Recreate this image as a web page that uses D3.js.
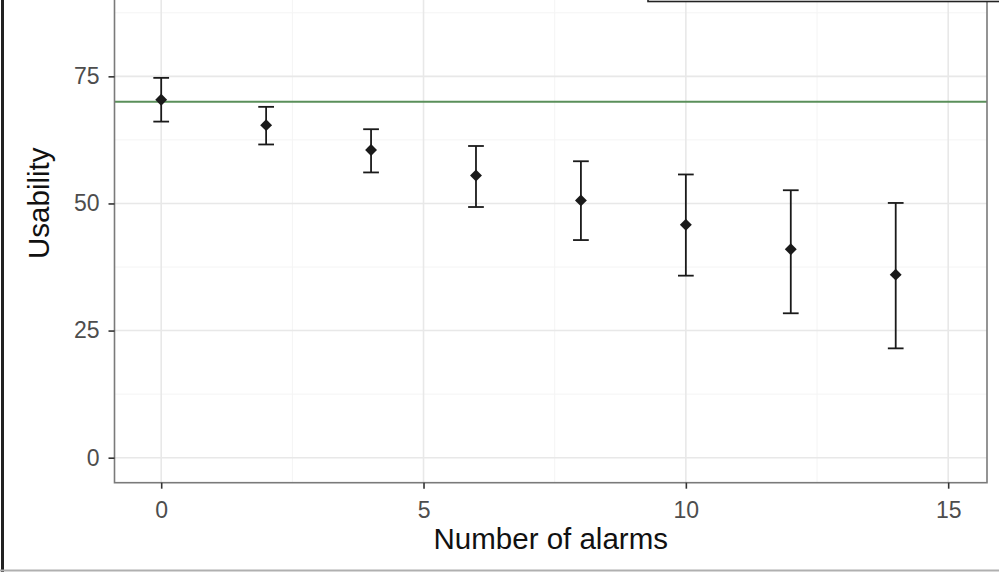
<!DOCTYPE html>
<html><head><meta charset="utf-8">
<script src="https://cdn.jsdelivr.net/npm/d3@7"></script>
<style>body{margin:0;background:#fff;}svg{display:block;font-family:"Liberation Sans",Arial,sans-serif;}</style>
</head><body>
<script>
const alarms = [0, 2, 4, 6, 8, 10, 12, 14];
const usability = [70.4, 65.4, 60.5, 55.5, 50.6, 45.8, 41.0, 36.0];
const lower = [66.1, 61.6, 56.1, 49.3, 42.8, 35.8, 28.4, 21.5];
const upper = [74.7, 69.0, 64.6, 61.3, 58.3, 55.7, 52.6, 50.1];
const reference = 70;
const xTicks = [0, 5, 10, 15];
const yTicks = [0, 25, 50, 75];
const xMinor = [2.5, 7.5, 12.5];
const yMinor = [12.5, 37.5, 62.5, 87.5];

const W = 999, H = 572;
const svg = d3.select("body").append("svg").attr("width", W).attr("height", H);

const x = d3.scaleLinear().domain([-0.89, 15.74]).range([114.5, 987]);
const y = d3.scaleLinear().domain([-4.92, 105]).range([482.7, -76.2]);

// outer frame pieces
svg.append("line").attr("x1", 2.5).attr("x2", 2.5).attr("y1", 0).attr("y2", H).attr("stroke", "#222").attr("stroke-width", 3);
svg.append("line").attr("x1", 0).attr("x2", W).attr("y1", 570.5).attr("y2", 570.5).attr("stroke", "#b0b0b0").attr("stroke-width", 2);

const panel = svg.append("g");
// minor grid
panel.selectAll(".gxm").data(xMinor).join("line")
  .attr("x1", d => x(d)).attr("x2", d => x(d)).attr("y1", y.range()[1]).attr("y2", y.range()[0])
  .attr("stroke", "#f4f4f4").attr("stroke-width", 1);
panel.selectAll(".gym").data(yMinor).join("line")
  .attr("x1", x.range()[0]).attr("x2", x.range()[1]).attr("y1", d => y(d)).attr("y2", d => y(d))
  .attr("stroke", "#f4f4f4").attr("stroke-width", 1);
// major grid
panel.selectAll(".gx").data(xTicks).join("line")
  .attr("x1", d => x(d)).attr("x2", d => x(d)).attr("y1", y.range()[1]).attr("y2", y.range()[0])
  .attr("stroke", "#e8e8e8").attr("stroke-width", 1.6);
panel.selectAll(".gy").data(yTicks).join("line")
  .attr("x1", x.range()[0]).attr("x2", x.range()[1]).attr("y1", d => y(d)).attr("y2", d => y(d))
  .attr("stroke", "#e8e8e8").attr("stroke-width", 1.6);

// reference line
panel.append("line").attr("x1", x.range()[0]).attr("x2", x.range()[1])
  .attr("y1", y(reference)).attr("y2", y(reference))
  .attr("stroke", "#5a8f5a").attr("stroke-width", 1.8);

// error bars
const capHalf = 0.15;
const eb = panel.selectAll(".eb").data(alarms).join("g").attr("stroke", "#1a1a1a").attr("stroke-width", 1.8);
eb.append("line").attr("x1", d => x(d)).attr("x2", d => x(d))
  .attr("y1", (d, i) => y(upper[i])).attr("y2", (d, i) => y(lower[i]));
eb.append("line").attr("x1", d => x(d - capHalf)).attr("x2", d => x(d + capHalf))
  .attr("y1", (d, i) => y(upper[i])).attr("y2", (d, i) => y(upper[i]));
eb.append("line").attr("x1", d => x(d - capHalf)).attr("x2", d => x(d + capHalf))
  .attr("y1", (d, i) => y(lower[i])).attr("y2", (d, i) => y(lower[i]));

// points (diamonds)
panel.selectAll(".pt").data(alarms).join("path")
  .attr("d", d3.symbol().type(d3.symbolDiamond2).size(90))
  .attr("transform", (d, i) => `translate(${x(d)},${y(usability[i])})`)
  .attr("fill", "#1a1a1a");

// panel border
panel.append("rect").attr("x", x.range()[0]).attr("y", y.range()[1])
  .attr("width", x.range()[1] - x.range()[0]).attr("height", y.range()[0] - y.range()[1])
  .attr("fill", "none").attr("stroke", "#7a7a7a").attr("stroke-width", 1.6);

// axes
const xAxis = svg.append("g").attr("transform", `translate(0,${y.range()[0]})`)
  .call(d3.axisBottom(x).tickValues(xTicks).tickSize(6).tickPadding(13).tickFormat(d3.format("d")));
const yAxis = svg.append("g").attr("transform", `translate(${x.range()[0]},0)`)
  .call(d3.axisLeft(y).tickValues(yTicks).tickSize(6).tickPadding(9).tickFormat(d3.format("d")));
[xAxis, yAxis].forEach(a => {
  a.select(".domain").remove();
  a.selectAll(".tick line").attr("stroke", "#333").attr("stroke-width", 1.6);
  a.selectAll(".tick text").attr("fill", "#4d4d4d").style("font-size", "23px").style("font-family", "'Liberation Sans',Arial,sans-serif");
});

// axis titles
svg.append("text").attr("x", (x.range()[0] + x.range()[1]) / 2).attr("y", 549)
  .attr("text-anchor", "middle").style("font-size", "29.5px").attr("fill", "#111").text("Number of alarms");
svg.append("text").attr("transform", `translate(49,${(y.range()[0] + y.range()[1]) / 2}) rotate(-90)`)
  .attr("text-anchor", "middle").style("font-size", "29.5px").attr("fill", "#111").text("Usability");

// legend box edge (cropped at top)
svg.append("rect").attr("x", 648).attr("y", -40).attr("width", 400).attr("height", 41.5)
  .attr("fill", "#fff").attr("stroke", "#222").attr("stroke-width", 1.6);
</script>
</body></html>
